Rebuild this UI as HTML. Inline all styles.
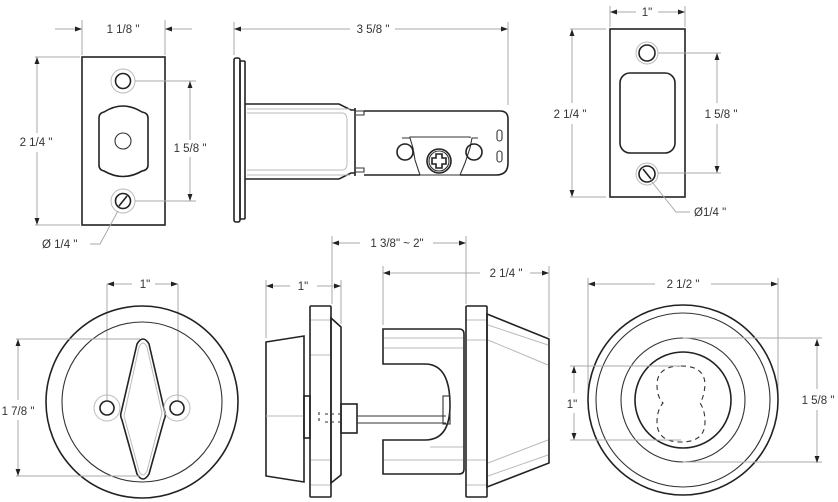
<!DOCTYPE html>
<html><head><meta charset="utf-8"><style>
html,body{margin:0;padding:0;background:#fff}
svg{display:block}
text{font-family:"Liberation Sans",Arial,sans-serif;font-size:11.5px;fill:#333}
.d{stroke:#aaa;stroke-width:1;fill:none}
.s{stroke:#222;stroke-width:1.6;fill:none}
.t{stroke:#333;stroke-width:1.1;fill:none}
.g{stroke:#bbb;stroke-width:1;fill:none}
</style></head><body>
<svg width="838" height="502" viewBox="0 0 838 502" xmlns="http://www.w3.org/2000/svg">
<defs>
<marker id="a" viewBox="0 0 10 10" refX="10" refY="5" markerWidth="9" markerHeight="7" orient="auto-start-reverse" markerUnits="userSpaceOnUse"><path d="M0,1.5 L10,5 L0,8.5 Z" fill="#222"/></marker>
</defs>

<!-- ===== Strike plate 1 ===== -->
<line class="d" x1="82" y1="20" x2="82" y2="55"/><line class="d" x1="165" y1="20" x2="165" y2="55"/>
<line class="d" x1="55" y1="29" x2="82" y2="29" marker-end="url(#a)"/>
<line class="d" x1="192" y1="29" x2="165" y2="29" marker-end="url(#a)"/>
<text x="123" y="33" text-anchor="middle">1 1/8 "</text>
<rect class="s" x="82" y="57" width="83" height="168"/>
<circle class="g" cx="123" cy="81" r="12"/><circle class="s" cx="123" cy="81" r="7.5"/>
<path class="s" d="M99,118 Q99,113 104,112 Q123,100 142,112 Q148,113 148,118 L148,165 Q148,170 142,171 Q123,182 104,171 Q99,170 99,165 Z"/>
<circle class="t" cx="123" cy="141" r="8"/>
<circle class="g" cx="123" cy="201" r="12"/><circle class="s" cx="123" cy="201" r="7.5"/>
<line class="s" x1="119" y1="206" x2="127" y2="196"/>
<line class="d" x1="35" y1="57" x2="80" y2="57"/><line class="d" x1="35" y1="225" x2="80" y2="225"/>
<line class="d" x1="37" y1="133" x2="37" y2="57" marker-end="url(#a)"/>
<line class="d" x1="37" y1="152" x2="37" y2="225" marker-end="url(#a)"/>
<text x="36" y="146" text-anchor="middle">2 1/4 "</text>
<line class="d" x1="135" y1="81" x2="196" y2="81"/><line class="d" x1="135" y1="201" x2="196" y2="201"/>
<line class="d" x1="190" y1="140" x2="190" y2="81" marker-end="url(#a)"/>
<line class="d" x1="190" y1="157" x2="190" y2="201" marker-end="url(#a)"/>
<text x="190" y="152" text-anchor="middle">1 5/8 "</text>
<polyline class="d" points="118,211 100,244 90,244"/>
<text x="42" y="248">Ø 1/4 "</text>

<!-- ===== Latch side view ===== -->
<line class="d" x1="234" y1="22" x2="234" y2="55"/><line class="d" x1="508" y1="22" x2="508" y2="105"/>
<line class="d" x1="350" y1="29" x2="234" y2="29" marker-end="url(#a)"/>
<line class="d" x1="395" y1="29" x2="508" y2="29" marker-end="url(#a)"/>
<text x="373" y="33" text-anchor="middle">3 5/8 "</text>
<rect class="s" x="234" y="58" width="6" height="164" rx="2"/>
<rect class="s" x="240" y="61" width="5" height="158" rx="1"/>
<path class="s" d="M245,104 L339,104 L351,110 L355,110 M245,179 L339,179 L351,173 L355,173"/>
<path class="g" d="M247,113 L342,113 Q347,113 347,120 L347,163 Q347,170 342,170 L247,170"/>
<line class="g" x1="247" y1="109" x2="350" y2="109"/><line class="g" x1="247" y1="175" x2="350" y2="175"/>
<line class="s" x1="355" y1="108" x2="355" y2="176"/>
<path class="t" d="M355,111 L364,111 L364,115 L356,115 M355,172 L364,172 L364,168 L356,168"/>
<path class="s" d="M364,111 L500,111 Q508,111 508,119 L508,163 Q508,175 496,175 L460,175 M420,175 L364,175"/>
<path class="t" d="M402,138 L410,138 L413,148 L415,160 L420,175 L460,175 L465,163 L470,148 L472,138 L478,138 M410,138 L410,137 L470,137 L470,138"/>
<circle class="s" cx="405" cy="152" r="8"/><circle class="s" cx="474" cy="152" r="8"/>
<circle class="s" cx="439" cy="161" r="12"/><circle class="t" cx="439" cy="161" r="10"/>
<path class="s" d="M436,154 h6 v4 h4 v6 h-4 v4 h-6 v-4 h-4 v-6 h4 Z"/>
<rect class="t" x="497" y="130" width="5" height="11" rx="2.5"/>
<rect class="t" x="497" y="151" width="5" height="11" rx="2.5"/>

<!-- ===== Strike plate 2 ===== -->
<line class="d" x1="610" y1="6" x2="610" y2="27"/><line class="d" x1="685" y1="6" x2="685" y2="27"/>
<line class="d" x1="636" y1="12" x2="610" y2="12" marker-end="url(#a)"/>
<line class="d" x1="658" y1="12" x2="685" y2="12" marker-end="url(#a)"/>
<text x="647" y="16" text-anchor="middle">1"</text>
<rect class="s" x="610" y="29" width="75" height="168"/>
<circle class="g" cx="647" cy="53" r="11"/><circle class="s" cx="647" cy="53" r="8"/>
<rect class="s" x="620" y="73" width="55" height="80" rx="10"/>
<circle class="g" cx="647" cy="174" r="11"/><circle class="s" cx="647" cy="174" r="8"/>
<line class="s" x1="643" y1="169" x2="651" y2="179"/>
<line class="d" x1="570" y1="29" x2="606" y2="29"/><line class="d" x1="570" y1="197" x2="606" y2="197"/>
<line class="d" x1="572" y1="103" x2="572" y2="29" marker-end="url(#a)"/>
<line class="d" x1="572" y1="124" x2="572" y2="197" marker-end="url(#a)"/>
<text x="570" y="118" text-anchor="middle">2 1/4 "</text>
<line class="d" x1="658" y1="53" x2="721" y2="53"/><line class="d" x1="658" y1="173" x2="721" y2="173"/>
<line class="d" x1="717" y1="103" x2="717" y2="53" marker-end="url(#a)"/>
<line class="d" x1="717" y1="124" x2="717" y2="173" marker-end="url(#a)"/>
<text x="721" y="118" text-anchor="middle">1 5/8 "</text>
<polyline class="d" points="652,182 676,212 690,212"/>
<text x="694" y="216">Ø1/4 "</text>

<!-- ===== Thumb turn front ===== -->
<line class="d" x1="107" y1="284" x2="107" y2="400"/><line class="d" x1="178" y1="284" x2="178" y2="400"/>
<line class="d" x1="132" y1="284" x2="107" y2="284" marker-end="url(#a)"/>
<line class="d" x1="155" y1="284" x2="178" y2="284" marker-end="url(#a)"/>
<text x="145" y="288" text-anchor="middle">1"</text>
<circle class="s" cx="142" cy="402" r="96"/>
<circle class="t" cx="142" cy="402" r="80"/>
<path class="s" d="M137,344 Q143,334 149,344 L165,413 Q166,416 164,420 L149,474 Q143,484 137,474 L122,420 Q120,416 121,413 Z"/>
<path class="g" d="M139,347 Q143,339 147,347 L162,413 L147,471 Q143,479 139,471 L124,416 Z"/>
<circle class="g" cx="107" cy="408" r="13"/><circle class="s" cx="107" cy="408" r="7"/>
<circle class="g" cx="177" cy="408" r="13"/><circle class="s" cx="177" cy="408" r="7"/>
<line class="d" x1="16" y1="339" x2="140" y2="339"/><line class="d" x1="16" y1="476" x2="140" y2="476"/>
<line class="d" x1="18" y1="400" x2="18" y2="339" marker-end="url(#a)"/>
<line class="d" x1="18" y1="420" x2="18" y2="476" marker-end="url(#a)"/>
<text x="18" y="415" text-anchor="middle">1 7/8 "</text>

<!-- ===== Side view assembly ===== -->
<line class="d" x1="332" y1="236" x2="332" y2="304"/><line class="d" x1="466" y1="236" x2="466" y2="304"/>
<line class="d" x1="360" y1="243" x2="332" y2="243" marker-end="url(#a)"/>
<line class="d" x1="433" y1="243" x2="466" y2="243" marker-end="url(#a)"/>
<text x="397" y="247" text-anchor="middle">1 3/8" ~ 2"</text>
<line class="d" x1="266" y1="280" x2="266" y2="338"/><line class="d" x1="341" y1="280" x2="341" y2="324"/>
<line class="d" x1="290" y1="286" x2="266" y2="286" marker-end="url(#a)"/>
<line class="d" x1="317" y1="286" x2="341" y2="286" marker-end="url(#a)"/>
<text x="303" y="290" text-anchor="middle">1"</text>
<line class="d" x1="383" y1="266" x2="383" y2="325"/><line class="d" x1="549" y1="266" x2="549" y2="337"/>
<line class="d" x1="480" y1="273" x2="383" y2="273" marker-end="url(#a)"/>
<line class="d" x1="530" y1="273" x2="549" y2="273" marker-end="url(#a)"/>
<text x="506" y="277" text-anchor="middle">2 1/4 "</text>
<!-- left knob -->
<polygon class="s" points="266,342 304,336 304,482 266,476"/>
<line class="g" x1="266" y1="416" x2="304" y2="416"/>
<rect class="s" x="304" y="396" width="6" height="42"/>
<rect class="s" x="310" y="306" width="21" height="191" rx="1"/>
<g class="g"><line x1="311" y1="320" x2="330" y2="320"/><line x1="311" y1="355" x2="330" y2="355"/><line x1="311" y1="460" x2="330" y2="460"/><line x1="311" y1="485" x2="330" y2="485"/></g>
<polygon class="s" points="331,318 341,327 341,475 331,483"/>
<rect class="s" x="341" y="404" width="16" height="29"/>
<path class="t" stroke-dasharray="3,3" d="M319,412 v10 M325,414 h10 M325,422 h10 M338,414 h6 M338,422 h6"/>
<line class="t" x1="357" y1="416" x2="446" y2="416"/><line class="t" x1="357" y1="423" x2="446" y2="423"/>
<!-- tailpiece U -->
<path class="s" d="M383,329 L459,329 Q464,329 464,334 L464,469 Q464,474 459,474 L383,474 L383,440 L425,440 Q450,440 450,405 Q450,364 425,364 L383,364 Z"/>
<g class="g"><line x1="384" y1="338" x2="463" y2="338"/><line x1="384" y1="348" x2="463" y2="348"/><line x1="384" y1="460" x2="463" y2="460"/><line x1="430" y1="447" x2="463" y2="447"/></g>
<rect class="t" x="443" y="396" width="7" height="28"/>
<rect class="s" x="466" y="306" width="21" height="191" rx="1"/>
<g class="g"><line x1="467" y1="320" x2="486" y2="320"/><line x1="467" y1="340" x2="486" y2="340"/><line x1="467" y1="460" x2="486" y2="460"/><line x1="467" y1="485" x2="486" y2="485"/></g>
<polygon class="s" points="487,314 549,339 549,463 487,487"/>
<g class="g"><line x1="488" y1="325" x2="548" y2="345"/><line x1="488" y1="340" x2="548" y2="365"/><line x1="488" y1="463" x2="548" y2="440"/><line x1="488" y1="476" x2="548" y2="455"/></g>

<!-- ===== Cylinder front ===== -->
<line class="d" x1="588" y1="278" x2="588" y2="400"/><line class="d" x1="778" y1="278" x2="778" y2="400"/>
<line class="d" x1="655" y1="284" x2="588" y2="284" marker-end="url(#a)"/>
<line class="d" x1="711" y1="284" x2="778" y2="284" marker-end="url(#a)"/>
<text x="683" y="288" text-anchor="middle">2 1/2 "</text>
<circle class="s" cx="683" cy="400" r="95"/>
<circle class="t" cx="683" cy="400" r="87"/>
<circle class="t" cx="683" cy="400" r="62"/>
<circle class="s" cx="683" cy="400" r="48"/>
<path class="t" stroke-dasharray="5,4" d="M681,366 Q705,366 705,385 Q704,397 700,403 Q705,410 705,422 Q705,442 681,442 Q657,442 657,422 Q657,410 663,403 Q657,397 657,385 Q657,366 681,366 Z"/>
<line class="d" x1="683" y1="338" x2="822" y2="338"/><line class="d" x1="683" y1="462" x2="822" y2="462"/>
<line class="d" x1="817" y1="389" x2="817" y2="339" marker-end="url(#a)"/>
<line class="d" x1="817" y1="410" x2="817" y2="463" marker-end="url(#a)"/>
<text x="818" y="404" text-anchor="middle">1 5/8 "</text>
<line class="d" x1="570" y1="366" x2="681" y2="366"/><line class="d" x1="570" y1="440" x2="681" y2="440"/>
<line class="d" x1="574" y1="393" x2="574" y2="366" marker-end="url(#a)"/>
<line class="d" x1="574" y1="413" x2="574" y2="440" marker-end="url(#a)"/>
<text x="572" y="408" text-anchor="middle">1"</text>
</svg>
</body></html>
